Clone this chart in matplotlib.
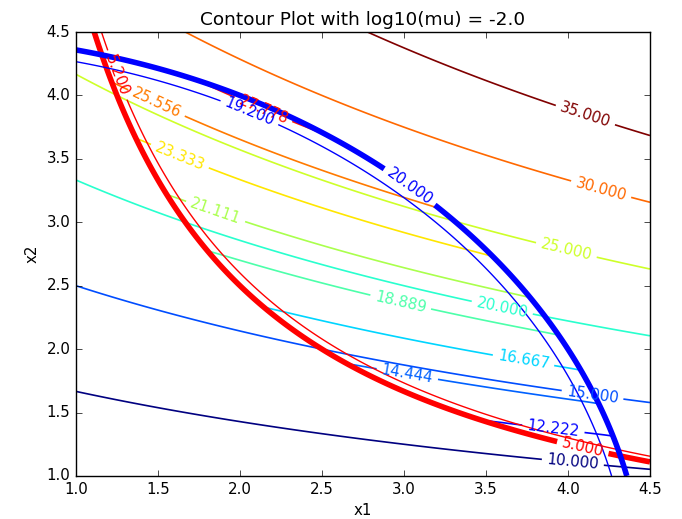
import numpy as np
import matplotlib
matplotlib.use("Agg")
import matplotlib.pyplot as plt

# problem setup: min x2*(5 + x1)  s.t.  x1*x2 >= 5,  x1^2 + x2^2 <= 20
log_mu = -2.0
x1_range = [1.0, 4.5]
x2_range = [1.0, 4.5]

obj_levels = [10, 15, 20, 25, 30, 35]
barrier_levels = np.linspace(10, 30, 10)
prod_levels = [5.0, 5.2]       # x1*x2
prod_widths = [4, 1]
circ_levels = [19.2, 20.0]     # x1^2 + x2^2
circ_widths = [1, 4]

# where the contour labels sit (picked by hand)
obj_label_pos = [(4.03, 1.11), (4.15, 1.64), (3.6, 2.33), (3.99, 2.78),
                 (4.2, 3.25), (4.1, 3.82)]
barrier_label_pos = [(3.91, 1.36), (3.02, 1.80), (3.73, 1.92), (2.98, 2.37),
                     (1.85, 3.08), (1.63, 3.51), (1.48, 3.91), (2.14, 3.88)]
prod_label_pos = [(4.09, 1.22), (1.25, 4.16)]
circ_label_pos = [(2.05, 3.84), (3.04, 3.29)]

plt.style.use("classic")
plt.rcParams["font.size"] = 10.8

x1 = np.linspace(x1_range[0], x1_range[1], 400)
x2 = np.linspace(x2_range[0], x2_range[1], 400)
X1, X2 = np.meshgrid(x1, x2)

f = X2 * (5 + X1)
g1 = X1 * X2
g2 = X1**2 + X2**2

mu = 10**log_mu
with np.errstate(invalid="ignore", divide="ignore"):
    barrier = f - mu * (np.log(g1 - 5) + np.log(20 - g2))

fig = plt.figure(figsize=(6.82, 5.19), dpi=100)
ax = fig.add_axes([0.1114, 0.0829, 0.8416, 0.8554])

cs1 = ax.contour(X1, X2, f, levels=obj_levels, cmap="jet", linewidths=1.2)
ax.clabel(cs1, fmt="%1.3f", manual=obj_label_pos)

cs2 = ax.contour(X1, X2, barrier, levels=barrier_levels, cmap="jet", linewidths=1.2)
ax.clabel(cs2, fmt="%1.3f", manual=barrier_label_pos)

cs3 = ax.contour(X1, X2, g1, levels=prod_levels, colors="r", linewidths=prod_widths)
ax.clabel(cs3, fmt="%1.3f", manual=prod_label_pos)

cs4 = ax.contour(X1, X2, g2, levels=circ_levels, colors="b", linewidths=circ_widths)
ax.clabel(cs4, fmt="%1.3f", manual=circ_label_pos)

ax.set_xlim(x1_range)
ax.set_ylim(x2_range)
ax.set_xlabel("x1")
ax.set_ylabel("x2")
ax.set_title("Contour Plot with log10(mu) = %.1f" % log_mu, fontsize=13.3)

fig.savefig("out.png", dpi=100)
